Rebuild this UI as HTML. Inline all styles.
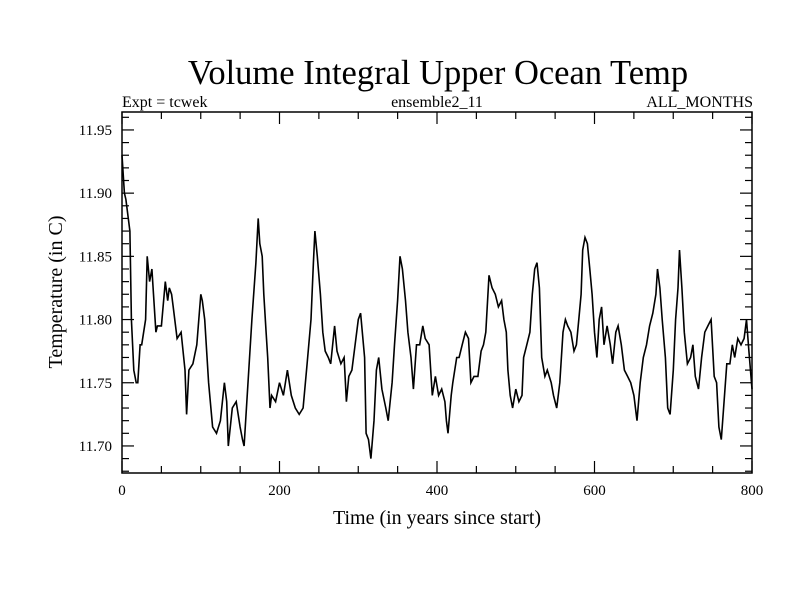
<!DOCTYPE html>
<html><head><meta charset="utf-8"><style>
body{margin:0;background:#fff}
svg text{font-family:"Liberation Serif",serif;fill:#000}
</style></head><body>
<svg id="chart" width="800" height="600" xmlns="http://www.w3.org/2000/svg">
<rect width="800" height="600" fill="#fff"/>
<text x="438" y="84" font-size="34.5" text-anchor="middle">Volume Integral Upper Ocean Temp</text>
<text x="122" y="107" font-size="16">Expt = tcwek</text>
<text x="437" y="107" font-size="16" text-anchor="middle">ensemble2_11</text>
<text x="753" y="107" font-size="16" text-anchor="end">ALL_MONTHS</text>
<text x="437" y="524" font-size="20" text-anchor="middle">Time (in years since start)</text>
<text transform="translate(62,292) rotate(-90)" font-size="20" text-anchor="middle">Temperature (in C)</text>
<g id="axes"></g>
<path id="series" fill="none" stroke="#000" stroke-width="1.6" stroke-linejoin="miter"/>
<rect x="122" y="112" width="630" height="361" fill="none" stroke="#000" stroke-width="1.5"/>
</svg>
<script>
const years=[0,3,5,10,12,15,18,20,23,25,30,32,35,38,40,43,45,50,55,58,60,63,65,70,75,80,82,85,90,95,100,102,105,110,115,120,125,130,133,135,140,145,150,153,155,160,165,170,173,175,178,180,183,185,188,190,195,200,205,210,215,220,225,230,235,240,243,245,248,252,255,258,262,265,270,273,278,282,285,288,292,296,300,303,308,310,313,316,320,323,326,330,335,338,343,346,350,353,356,360,363,367,370,374,378,382,385,390,394,398,402,406,410,412,414,418,420,425,428,432,436,440,443,447,452,456,459,462,466,470,474,478,482,485,488,490,493,496,500,504,508,510,514,518,521,524,527,530,533,537,540,545,548,552,556,560,563,566,570,574,577,580,583,585,588,591,594,597,600,603,606,609,612,616,620,623,627,630,634,638,642,646,650,654,658,662,666,670,674,678,680,683,686,690,693,696,700,703,706,708,711,714,718,722,725,728,732,736,740,744,748,752,755,758,761,764,768,772,775,778,782,786,790,793,796,800];
const temps=[11.93,11.90,11.895,11.87,11.80,11.76,11.75,11.75,11.78,11.78,11.80,11.85,11.83,11.84,11.82,11.79,11.795,11.795,11.83,11.815,11.825,11.82,11.81,11.785,11.79,11.76,11.725,11.76,11.765,11.78,11.82,11.815,11.80,11.75,11.715,11.71,11.72,11.75,11.735,11.70,11.73,11.735,11.715,11.705,11.70,11.75,11.80,11.845,11.88,11.86,11.85,11.82,11.79,11.77,11.73,11.74,11.735,11.75,11.74,11.76,11.74,11.73,11.725,11.73,11.765,11.80,11.845,11.87,11.85,11.82,11.79,11.775,11.77,11.765,11.795,11.775,11.765,11.77,11.735,11.755,11.76,11.78,11.80,11.805,11.77,11.71,11.705,11.69,11.72,11.76,11.77,11.745,11.73,11.72,11.75,11.78,11.815,11.85,11.84,11.815,11.79,11.77,11.745,11.78,11.78,11.795,11.785,11.78,11.74,11.755,11.74,11.745,11.735,11.72,11.71,11.74,11.75,11.77,11.77,11.78,11.79,11.785,11.75,11.755,11.755,11.775,11.78,11.79,11.835,11.825,11.82,11.81,11.815,11.80,11.79,11.76,11.74,11.73,11.745,11.735,11.74,11.77,11.78,11.79,11.82,11.84,11.845,11.825,11.77,11.755,11.76,11.75,11.74,11.73,11.75,11.79,11.80,11.795,11.79,11.775,11.78,11.80,11.82,11.855,11.865,11.86,11.84,11.82,11.79,11.77,11.80,11.81,11.78,11.795,11.78,11.765,11.79,11.795,11.78,11.76,11.755,11.75,11.74,11.72,11.75,11.77,11.78,11.795,11.805,11.82,11.84,11.825,11.80,11.77,11.73,11.725,11.76,11.80,11.825,11.855,11.825,11.79,11.765,11.77,11.78,11.755,11.745,11.77,11.79,11.795,11.80,11.755,11.75,11.715,11.705,11.73,11.765,11.765,11.78,11.77,11.785,11.78,11.785,11.80,11.775,11.745];
const yTickLabels=["11.70","11.75","11.80","11.85","11.90","11.95"];
const xTickLabels=["0","200","400","600","800"];
const X0=122,X1=752,Y0=473,Y1=112,xmin=0,xmax=800,ymin=11.6786,ymax=11.9642;
const sx=v=>X0+(v-xmin)/(xmax-xmin)*(X1-X0);
const sy=v=>Y0-(v-ymin)/(ymax-ymin)*(Y0-Y1);
const NS="http://www.w3.org/2000/svg";
const axes=document.getElementById('axes');
function line(x1,y1,x2,y2,name){const l=document.createElementNS(NS,'line');l.setAttribute('x1',x1);l.setAttribute('y1',y1);l.setAttribute('x2',x2);l.setAttribute('y2',y2);l.setAttribute('stroke','#000');l.setAttribute('stroke-width','1.2');


axes.appendChild(l);}
function text(x,y,s,anchor,name){const t=document.createElementNS(NS,'text');t.setAttribute('x',x);t.setAttribute('y',y);t.setAttribute('font-size','15');t.setAttribute('text-anchor',anchor);t.textContent=s;


axes.appendChild(t);}
for(let i=0;i<=28;i++){const v=11.68+i*0.01;if(v>ymax)break;const y=sy(v);const major=(i%5==2);const len=major?12:7;
line(X0,y,X0+len,y,'y-tick');line(X1,y,X1-len,y,'y-tick-right');}
yTickLabels.forEach(s=>text(X0-10,sy(parseFloat(s))+5,s,'end','y-tick-label'));
for(let v=0;v<=800;v+=50){const x=sx(v);const major=v%200==0;const len=major?12:7;
line(x,Y0,x,Y0-len,'x-tick');line(x,Y1,x,Y1+len,'x-tick-top');}
xTickLabels.forEach(s=>text(sx(parseFloat(s)),495,s,'middle','x-tick-label'));
let d='';years.forEach((yr,i)=>{d+=(i?'L':'M')+sx(yr).toFixed(1)+' '+sy(temps[i]).toFixed(1);});
document.getElementById('series').setAttribute('d',d);
</script>
</body></html>
